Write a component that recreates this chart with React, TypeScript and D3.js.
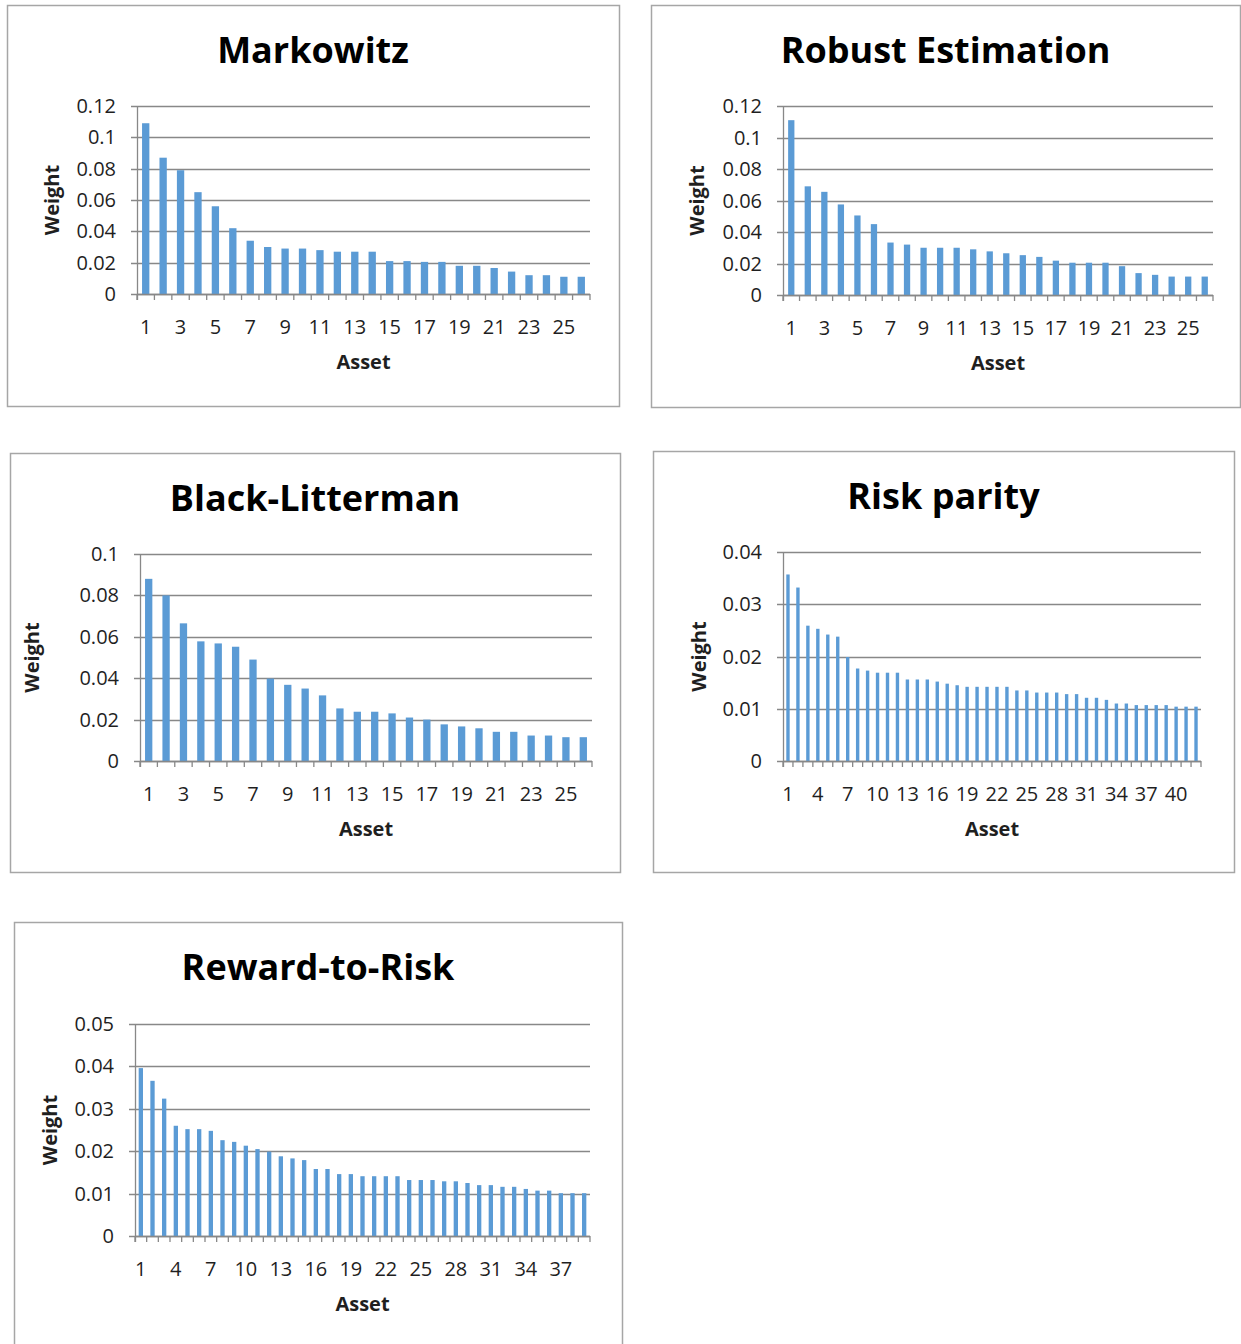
import React from "react";
import * as d3 from "d3";

// ---------- data ----------
const markowitzWeights = [0.109, 0.087, 0.079, 0.065, 0.056, 0.042, 0.034, 0.030, 0.029, 0.029, 0.028, 0.027, 0.027, 0.027, 0.021, 0.021, 0.0205, 0.0205, 0.018, 0.018, 0.0166, 0.0143, 0.012, 0.012, 0.011, 0.011];
const robustWeights = [0.111, 0.069, 0.0655, 0.0575, 0.0505, 0.045, 0.0333, 0.032, 0.030, 0.030, 0.030, 0.029, 0.0277, 0.0265, 0.0253, 0.0242, 0.0218, 0.0205, 0.0205, 0.0205, 0.0183, 0.0139, 0.0128, 0.0117, 0.0117, 0.0117];
const blackLittermanWeights = [0.088, 0.080, 0.0665, 0.0578, 0.0568, 0.0552, 0.049, 0.0398, 0.0368, 0.035, 0.0317, 0.0254, 0.0238, 0.0238, 0.023, 0.021, 0.020, 0.0177, 0.0167, 0.0158, 0.0141, 0.0141, 0.0123, 0.0123, 0.0115, 0.0115];
const riskParityWeights = [0.0357, 0.0332, 0.0259, 0.0253, 0.0242, 0.0238, 0.0199, 0.0177, 0.0173, 0.0169, 0.0169, 0.0169, 0.0156, 0.0156, 0.0156, 0.0152, 0.0148, 0.0145, 0.0142, 0.0142, 0.0142, 0.0142, 0.0142, 0.0135, 0.0135, 0.0131, 0.0131, 0.0131, 0.0128, 0.0128, 0.0121, 0.0121, 0.0117, 0.011, 0.011, 0.0107, 0.0107, 0.0107, 0.0107, 0.0104, 0.0104, 0.0104];
const rewardToRiskWeights = [0.0396, 0.0366, 0.0324, 0.026, 0.0252, 0.0252, 0.0248, 0.0226, 0.0222, 0.0213, 0.0205, 0.0199, 0.0188, 0.0183, 0.0179, 0.0158, 0.0158, 0.0146, 0.0146, 0.0141, 0.0141, 0.0141, 0.0141, 0.0132, 0.0132, 0.0132, 0.0129, 0.0129, 0.0125, 0.012, 0.012, 0.0116, 0.0116, 0.0111, 0.0107, 0.0107, 0.0101, 0.0101, 0.0101];

const titles = ["Markowitz", "Robust Estimation", "Black-Litterman", "Risk parity", "Reward-to-Risk"];
const yMaxes = [0.12, 0.12, 0.1, 0.04, 0.05];
const ySteps = [0.02, 0.02, 0.02, 0.01, 0.01];
const labelEvery = [2, 2, 2, 3, 3];
const xAxisTitle = "Asset";
const yAxisTitle = "Weight";

// ---------- layout ----------
const layouts = [
  { box: [7, 5, 619, 406], plot: [137, 106, 590, 294], weightX: 52, barFrac: 0.42 },
  { box: [651, 5, 1240, 407], plot: [783, 106, 1213, 295], weightX: 697, barFrac: 0.38 },
  { box: [10, 453, 620, 872], plot: [140, 554, 592, 761], weightX: 32, barFrac: 0.42 },
  { box: [653, 451, 1234, 872], plot: [783, 552, 1201, 761], weightX: 699, barFrac: 0.34 },
  { box: [14, 922, 622, 1350], plot: [135, 1024, 590, 1236], weightX: 50, barFrac: 0.37 },
];

const seriesList = [markowitzWeights, robustWeights, blackLittermanWeights, riskParityWeights, rewardToRiskWeights];

const BAR = "#5b9bd5";
const GRID = "#888888";
const FONT = "'Open Sans', 'DejaVu Sans', sans-serif";
const TXT = "#1f1f1f";

function Panel({ idx }: { idx: number }) {
  const values = seriesList[idx];
  const L = layouts[idx];
  const [bx0, by0, bx1, by1] = L.box;
  const [pl, pt, pr, pb] = L.plot;
  const cats = values.map((_, i) => String(i + 1));
  const x = d3.scaleBand<string>().domain(cats).range([pl, pr]).paddingInner(0).paddingOuter(0);
  const y = d3.scaleLinear().domain([0, yMaxes[idx]]).range([pb, pt]);
  const nTicks = Math.round(yMaxes[idx] / ySteps[idx]);
  const yTicks = d3.range(nTicks + 1).map((i) => +(i * ySteps[idx]).toFixed(4));
  const bw = x.bandwidth();
  const barW = bw * L.barFrac;
  const boundaries = d3.range(cats.length + 1).map((i) => pl + i * bw);
  const cx = (bx0 + bx1) / 2;
  const fmt = (v: number) => String(+v.toFixed(2));

  return (
    <g>
      <rect x={bx0 + 0.5} y={by0 + 0.5} width={bx1 - bx0} height={by1 - by0} fill="#fff" stroke="#a6a6a6" strokeWidth={1.5} />
      <text x={cx} y={by0 + 58} textAnchor="middle" fontFamily={FONT} fontWeight={700} fontSize={36} fill="#000">
        {titles[idx]}
      </text>
      {yTicks.map((t) => (
        <g key={"g" + t}>
          <line x1={pl - 6} x2={pr} y1={Math.round(y(t)) + 0.5} y2={Math.round(y(t)) + 0.5} stroke={GRID} strokeWidth={1.3} />
          <text x={pl - 21} y={y(t) + 7} textAnchor="end" fontFamily={FONT} fontSize={20} fill={TXT}>
            {fmt(t)}
          </text>
        </g>
      ))}
      {values.map((v, i) => (
        <rect key={i} x={(x(cats[i]) as number) + (bw - barW) / 2} y={y(v)} width={barW} height={pb - y(v)} fill={BAR} />
      ))}
      <line x1={pl + 0.5} x2={pl + 0.5} y1={pt} y2={pb + 6} stroke={GRID} strokeWidth={1.3} />
      <line x1={pl} x2={pr} y1={pb + 0.5} y2={pb + 0.5} stroke={GRID} strokeWidth={1.3} />
      {boundaries.map((bxp, i) => (
        <line key={"t" + i} x1={bxp} x2={bxp} y1={pb} y2={pb + 6} stroke={GRID} strokeWidth={1.3} />
      ))}
      {cats.map((c, i) =>
        i % labelEvery[idx] === 0 ? (
          <text key={"l" + c} x={(x(c) as number) + bw / 2} y={pb + 40} textAnchor="middle" fontFamily={FONT} fontSize={20} fill={TXT}>
            {c}
          </text>
        ) : null
      )}
      <text x={(pl + pr) / 2} y={pb + 75} textAnchor="middle" fontFamily={FONT} fontWeight={700} fontSize={20} fill={TXT}>
        {xAxisTitle}
      </text>
      <text
        transform={`translate(${L.weightX + 7},${(pt + pb) / 2}) rotate(-90)`}
        textAnchor="middle"
        fontFamily={FONT}
        fontWeight={700}
        fontSize={20}
        fill={TXT}
      >
        {yAxisTitle}
      </text>
    </g>
  );
}

export default function App() {
  return (
    <svg width={1241} height={1344} style={{ position: "absolute", left: 0, top: 0, background: "#fff" }}>
      <rect x={0} y={0} width={1241} height={1344} fill="#fff" />
      {titles.map((_, i) => (
        <Panel key={i} idx={i} />
      ))}
    </svg>
  );
}
